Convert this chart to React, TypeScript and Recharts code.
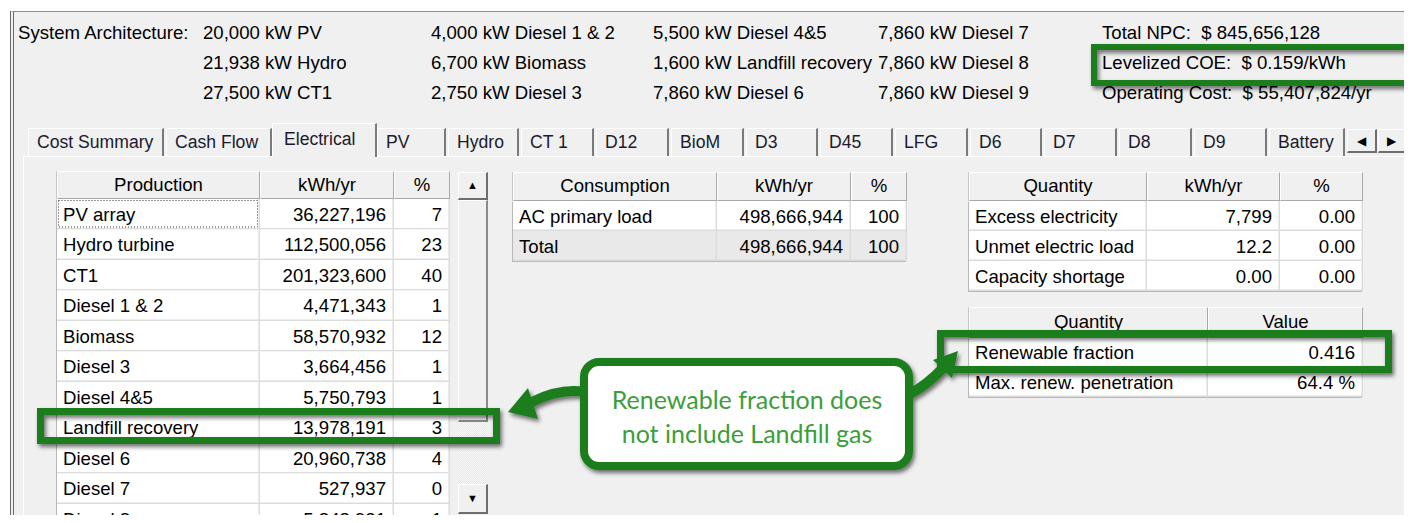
import React from "react";
import { BarChart, Bar, XAxis, YAxis } from "recharts";

const FONT = "'Liberation Sans', Arial, sans-serif";
const FS = 18.6;
const GREEN = "#1e7d1e";
const TEXT_GREEN = "#3b9e3b";

// system architecture block, one array per printed column
const archCol1 = ["20,000 kW PV", "21,938 kW Hydro", "27,500 kW CT1"];
const archCol2 = ["4,000 kW Diesel 1 & 2", "6,700 kW Biomass", "2,750 kW Diesel 3"];
const archCol3 = ["5,500 kW Diesel 4&5", "1,600 kW Landfill recovery", "7,860 kW Diesel 6"];
const archCol4 = ["7,860 kW Diesel 7", "7,860 kW Diesel 8", "7,860 kW Diesel 9"];
const costLines = ["Total NPC:  $ 845,656,128", "Levelized COE:  $ 0.159/kWh", "Operating Cost:  $ 55,407,824/yr"];

const tabNames = ["Cost Summary", "Cash Flow", "Electrical", "PV", "Hydro", "CT 1", "D12", "BioM", "D3", "D45", "LFG", "D6", "D7", "D8", "D9", "Battery"];
const tabEdges = [28, 166, 274, 377, 448, 521, 596, 671, 746, 820, 895, 970, 1044, 1119, 1194, 1269, 1347];

const prodNames = ["PV array", "Hydro turbine", "CT1", "Diesel 1 & 2", "Biomass", "Diesel 3", "Diesel 4&5", "Landfill recovery", "Diesel 6", "Diesel 7", "Diesel 8"];
const prodKwh = [36227196, 112500056, 201323600, 4471343, 58570932, 3664456, 5750793, 13978191, 20960738, 527937, 5848931];
const prodPct = [7, 23, 40, 1, 12, 1, 1, 3, 4, 0, 1];

const consNames = ["AC primary load", "Total"];
const consKwh = [498666944, 498666944];
const consPct = [100, 100];

const qtyNames = ["Excess electricity", "Unmet electric load", "Capacity shortage"];
const qtyKwh = ["7,799", "12.2", "0.00"];
const qtyPct = ["0.00", "0.00", "0.00"];

const renewNames = ["Renewable fraction", "Max. renew. penetration"];
const renewValues = [0.416, 64.4];
const renewLabels = ["0.416", "64.4 %"];

const fmt = (v: number) => v.toLocaleString("en-US");

type Col = { title: string; width: number; align: "left" | "right" };

function GridTable({
  left,
  top,
  headerH,
  rowH,
  cols,
  rows,
  values,
  fills,
  focusFirst,
}: {
  left: number;
  top: number;
  headerH: number;
  rowH: number;
  cols: Col[];
  rows: string[][];
  values: number[];
  fills?: string[];
  focusFirst?: boolean;
}) {
  const total = cols.reduce((s, c) => s + c.width, 0);
  const data = rows.map((r, i) => ({ key: r[0], cells: r, v: values[i] }));

  const RowTick = (props: any) => {
    const i = data.findIndex((d) => d.key === props.payload.value);
    const row = data[i];
    if (!row) return null;
    const y0 = props.y - rowH / 2;
    let x = 0;
    return (
      <g>
        {cols.map((c, ci) => {
          const cx = x;
          x += c.width;
          return (
            <g key={ci}>
              <rect x={cx} y={y0} width={c.width} height={rowH} fill={fills?.[i] ?? "#ffffff"} />
              <line x1={cx} x2={cx + c.width} y1={y0 + rowH - 0.75} y2={y0 + rowH - 0.75} stroke="#dcdcdc" strokeWidth={1.5} />
              <line x1={cx + c.width - 0.75} x2={cx + c.width - 0.75} y1={y0} y2={y0 + rowH} stroke="#dcdcdc" strokeWidth={1.5} />
              {focusFirst && i === 0 && ci === 0 && (
                <rect x={cx + 1.5} y={y0 + 1.5} width={c.width - 4} height={rowH - 4} fill="none" stroke="#333" strokeWidth={1} strokeDasharray="1 2" />
              )}
              <text
                x={c.align === "left" ? cx + 6 : cx + c.width - 8}
                y={y0 + rowH / 2 + 6.5}
                textAnchor={c.align === "left" ? "start" : "end"}
                fontFamily={FONT}
                fontSize={FS}
                fill="#000"
              >
                {row.cells[ci]}
              </text>
            </g>
          );
        })}
      </g>
    );
  };

  return (
    <div style={{ position: "absolute", left, top, width: total + 2 }}>
      <div style={{ display: "flex", height: headerH, boxShadow: "-1px 0 0 #c8c8c8" }}>
        {cols.map((c, ci) => (
          <div
            key={ci}
            style={{
              width: c.width,
              boxSizing: "border-box",
              background: "#f0f0f0",
              borderTop: "1px solid #ffffff",
              borderLeft: "1px solid #ffffff",
              borderRight: "1.5px solid #a8a8a8",
              borderBottom: "1.5px solid #a8a8a8",
              textAlign: "center",
              lineHeight: headerH - 3 + "px",
              fontFamily: FONT,
              fontSize: FS,
              color: "#000",
            }}
          >
            {c.title}
          </div>
        ))}
      </div>
      <div style={{ boxShadow: "-1px 1px 0 #b8b8b8", width: total }}>
        <BarChart
          width={total + 2}
          height={rows.length * rowH}
          data={data}
          layout="vertical"
          margin={{ top: 0, right: 0, bottom: 0, left: 0 }}
          barCategoryGap={0}
          style={{ overflow: "visible" }}
        >
          <XAxis type="number" hide />
          <YAxis
            type="category"
            dataKey="key"
            width={total}
            interval={0}
            tick={RowTick}
            axisLine={false}
            tickLine={false}
          />
          <Bar dataKey="v" fill="transparent" isAnimationActive={false} />
        </BarChart>
      </div>
    </div>
  );
}

const txt = (x: number, y: number, s: string, extra: any = {}) => (
  <div
    key={x + "-" + y + s}
    style={{
      position: "absolute",
      left: x,
      top: y - 11,
      height: 22,
      lineHeight: "22px",
      whiteSpace: "pre",
      fontFamily: FONT,
      fontSize: FS,
      color: "#000",
      ...extra,
    }}
  >
    {s}
  </div>
);

const btn = (extra: any) => ({
  position: "absolute" as const,
  boxSizing: "border-box" as const,
  background: "#f0f0f0",
  borderTop: "1px solid #ffffff",
  borderLeft: "1px solid #ffffff",
  borderRight: "2px solid #6e6e6e",
  borderBottom: "2px solid #6e6e6e",
  ...extra,
});

export default function App() {
  const rowYs = [33, 63, 93];
  return (
    <div style={{ position: "relative", width: 1412, height: 523, overflow: "hidden", background: "#ffffff", margin: -8 }}>
      {/* faint window shadow line at top */}
      <div style={{ position: "absolute", left: 0, top: 3, width: 1412, height: 4, background: "linear-gradient(90deg,#e8e0ee,#d6cce0,#ece4f2,#d8cee2,#eee8f2)", filter: "blur(1px)" }} />
      {/* frame */}
      <div style={{ position: "absolute", left: 10, top: 11, width: 1402, height: 512, background: "#f0f0f0", borderTop: "1px solid #8c8c8c", borderLeft: "4px double #6a6a6a", boxSizing: "border-box" }} />

      {txt(18, rowYs[0], "System Architecture:")}
      {archCol1.map((s, i) => txt(203, rowYs[i], s))}
      {archCol2.map((s, i) => txt(431, rowYs[i], s))}
      {archCol3.map((s, i) => txt(653, rowYs[i], s))}
      {archCol4.map((s, i) => txt(878, rowYs[i], s, { background: "#f0f0f0" }))}
      {costLines.map((s, i) => txt(1102, rowYs[i], s))}

      {/* tab panel */}
      <div style={{ position: "absolute", left: 23, top: 156, width: 1383, height: 380, borderTop: "1px solid #ffffff", borderLeft: "1px solid #ffffff", borderRight: "2px solid #8a8a8a", background: "#f0f0f0" }} />
      {tabNames.map((t, i) => {
        const sel = t === "Electrical";
        const l = tabEdges[i];
        const w = tabEdges[i + 1] - l - 2;
        return (
          <div
            key={t}
            style={{
              position: "absolute",
              left: sel ? l - 2 : l,
              top: sel ? 123 : 128,
              width: sel ? w + 4 : w,
              height: sel ? 34 : 28,
              boxSizing: "border-box",
              background: "#f0f0f0",
              borderTop: "1px solid #ffffff",
              borderLeft: "1px solid #ffffff",
              borderRight: "2.5px solid #7a7a7a",
              paddingLeft: sel ? 11 : 8,
              lineHeight: sel ? "30px" : "27px",
              fontFamily: FONT,
              fontSize: 17.6,
              color: "#1b1b2e",
              whiteSpace: "nowrap",
              overflow: "hidden",
              zIndex: sel ? 2 : 1,
            }}
          >
            {t}
          </div>
        );
      })}
      <div style={btn({ left: 1347, top: 129, width: 30, height: 24, fontSize: 12, textAlign: "center", lineHeight: "22px", zIndex: 3 })}>◀</div>
      <div style={btn({ left: 1378, top: 129, width: 28, height: 24, fontSize: 12, textAlign: "center", lineHeight: "22px", zIndex: 3 })}>▶</div>

      <GridTable
        left={57}
        top={171}
        headerH={28}
        rowH={30.5}
        cols={[
          { title: "Production", width: 203, align: "left" },
          { title: "kWh/yr", width: 134, align: "right" },
          { title: "%", width: 56, align: "right" },
        ]}
        rows={prodNames.map((n, i) => [n, fmt(prodKwh[i]), String(prodPct[i])])}
        values={prodKwh}
        focusFirst
      />
      {/* scrollbar */}
      <div style={{ position: "absolute", left: 458, top: 200, width: 30, height: 323, background: "repeating-conic-gradient(#e6e6e6 0% 25%, #fafafa 0% 50%) 0 0 / 2px 2px" }} />
      <div style={btn({ left: 458, top: 172, width: 30, height: 28, fontSize: 11, textAlign: "center", lineHeight: "24px" })}>▲</div>
      <div style={btn({ left: 458, top: 200, width: 30, height: 222, borderRight: "2px solid #8a8a8a", borderBottom: "2px solid #8a8a8a" })} />
      <div style={btn({ left: 458, top: 484, width: 30, height: 30, fontSize: 11, textAlign: "center", lineHeight: "27px" })}>▼</div>

      <GridTable
        left={513}
        top={172}
        headerH={29}
        rowH={30}
        cols={[
          { title: "Consumption", width: 204, align: "left" },
          { title: "kWh/yr", width: 134, align: "right" },
          { title: "%", width: 56, align: "right" },
        ]}
        rows={consNames.map((n, i) => [n, fmt(consKwh[i]), String(consPct[i])])}
        values={consPct}
        fills={["#ffffff", "#e9e9e9"]}
      />

      <GridTable
        left={969}
        top={172}
        headerH={29}
        rowH={30}
        cols={[
          { title: "Quantity", width: 178, align: "left" },
          { title: "kWh/yr", width: 133, align: "right" },
          { title: "%", width: 83, align: "right" },
        ]}
        rows={qtyNames.map((n, i) => [n, qtyKwh[i], qtyPct[i]])}
        values={qtyNames.map((_, i) => parseFloat(qtyPct[i]))}
      />

      <GridTable
        left={969}
        top={307}
        headerH={31}
        rowH={29.5}
        cols={[
          { title: "Quantity", width: 239, align: "left" },
          { title: "Value", width: 155, align: "right" },
        ]}
        rows={renewNames.map((n, i) => [n, renewLabels[i]])}
        values={renewValues}
      />

      {/* annotations */}
      <svg width={1412} height={523} style={{ position: "absolute", left: 0, top: 0, pointerEvents: "none", zIndex: 5 }}>
        <defs>
          <filter id="sh" x="-20%" y="-20%" width="140%" height="160%">
            <feDropShadow dx={2} dy={3} stdDeviation={2} floodColor="#000" floodOpacity={0.55} />
          </filter>
        </defs>
        <g filter="url(#sh)">
          <rect x={1094} y={47} width={330} height={36} fill="none" stroke={GREEN} strokeWidth={6} />
          <rect x={40.5} y={411.5} width={456} height={29} fill="none" stroke={GREEN} strokeWidth={7} />
          <rect x={940.5} y={333.5} width={448} height={36} fill="none" stroke={GREEN} strokeWidth={7} />
          <path d="M 585 392 Q 560 388 532 402" fill="none" stroke={GREEN} strokeWidth={10} strokeLinecap="round" />
          <polygon points="508,412 528,388 538,419" fill={GREEN} />
          <path d="M 910 394 Q 928 384 942 369" fill="none" stroke={GREEN} strokeWidth={10} strokeLinecap="round" />
          <polygon points="958,351 933,360 952,378" fill={GREEN} />
          <rect x={584} y={362} width={325} height={104} rx={15} fill="#ffffff" stroke={GREEN} strokeWidth={8} />
        </g>
        <text x={747} y={409} textAnchor="middle" fontFamily="Lato, 'Open Sans', sans-serif" fontSize={25} fill={TEXT_GREEN}>
          Renewable fraction does
        </text>
        <text x={747} y={443} textAnchor="middle" fontFamily="Lato, 'Open Sans', sans-serif" fontSize={25} fill={TEXT_GREEN}>
          not include Landfill gas
        </text>
      </svg>
    </div>
  );
}
